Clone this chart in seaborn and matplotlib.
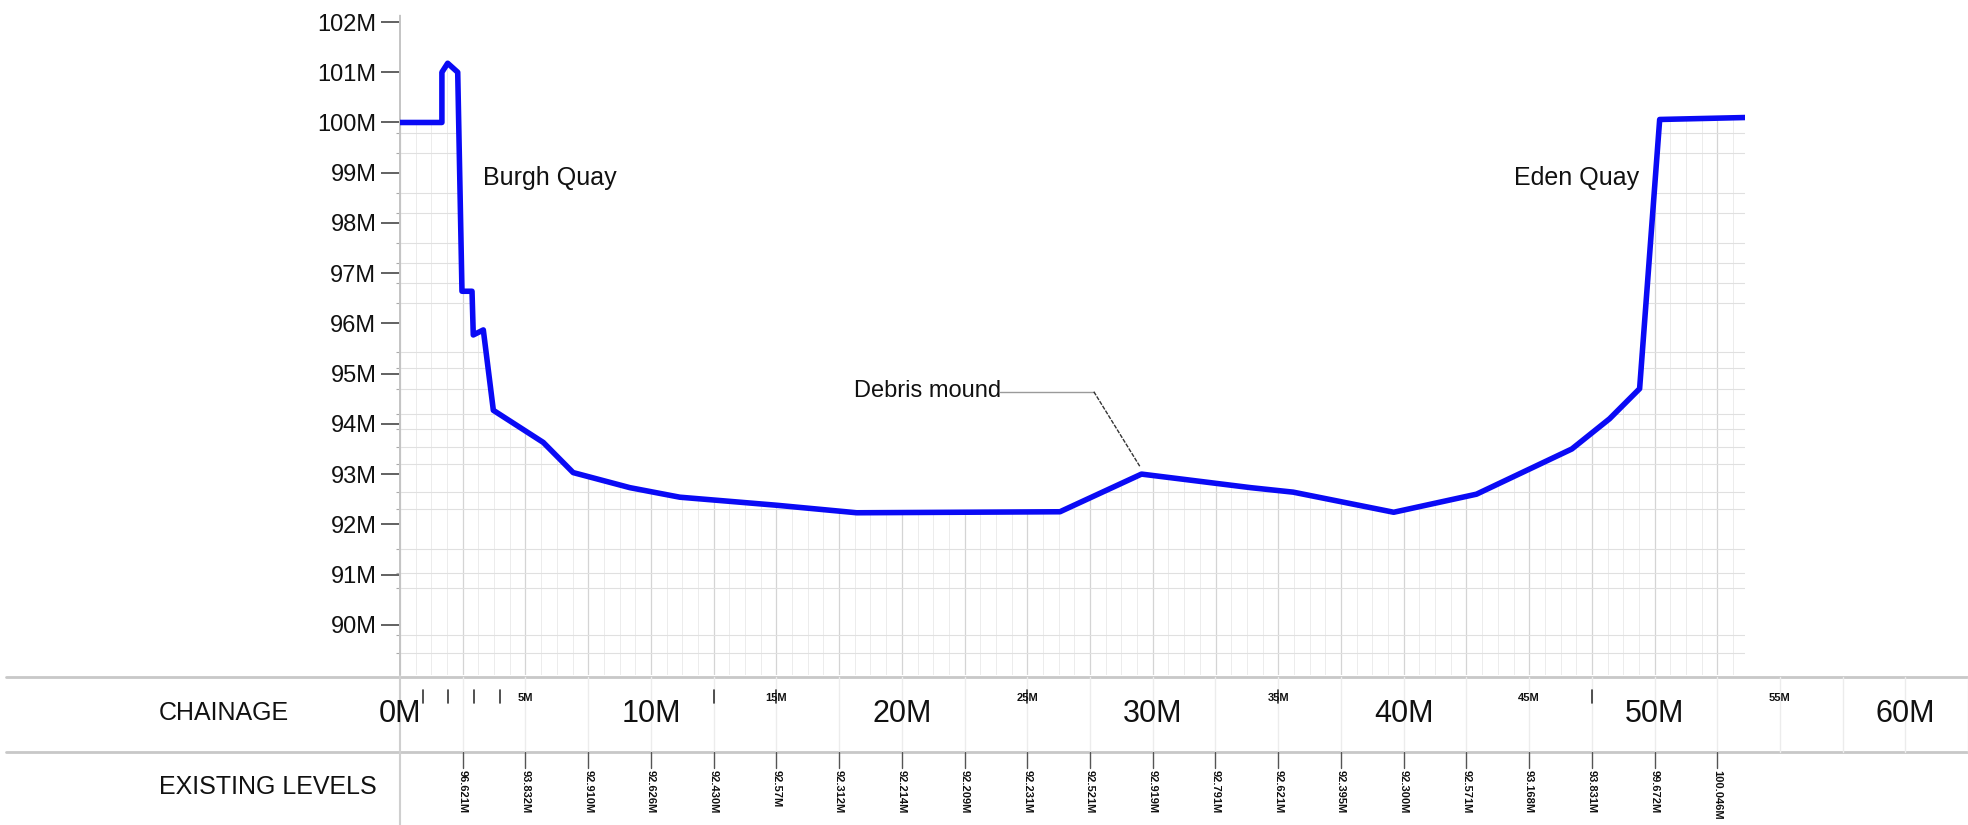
import numpy as np
import pandas as pd
import matplotlib
matplotlib.use("Agg")
import matplotlib.pyplot as plt
from matplotlib.ticker import MultipleLocator, FixedLocator
import seaborn as sns

# ==========================================================
# Data
# ==========================================================
chainage = [0.0, 1.67, 1.67, 1.9, 2.3, 2.47, 2.87, 2.92, 3.32, 3.72, 5.71, 6.9,
            9.16, 11.15, 15.0, 18.2, 26.3, 29.55, 33.9, 35.6, 39.6, 42.9, 46.7,
            48.2, 49.4, 50.2, 53.7]
level = [100.0, 100.0, 101.0, 101.18, 101.0, 96.64, 96.64, 95.77, 95.87, 94.27,
         93.63, 93.03, 92.73, 92.54, 92.38, 92.23, 92.25, 93.0, 92.73, 92.64,
         92.24, 92.6, 93.5, 94.1, 94.7, 100.06, 100.1]

level_chainage = [2.5, 5, 7.5, 10, 12.5, 15, 17.5, 20, 22.5, 25, 27.5, 30, 32.5,
                  35, 37.5, 40, 42.5, 45, 47.5, 50, 52.5]
level_labels = ["96.621M", "93.832M", "92.910M", "92.626M", "92.430M", "92.57M",
                "92.312M", "92.214M", "92.209M", "92.231M", "92.521M", "92.919M",
                "92.791M", "92.621M", "92.395M", "92.300M", "92.571M", "93.168M",
                "93.831M", "99.672M", "100.046M"]

major_chainage = [0, 10, 20, 30, 40, 50, 60]
minor_chainage = [5, 15, 25, 35, 45, 55]
chainage_ticks = [0.9, 1.9, 2.95, 4.0, 12.5, 15, 25, 35, 47.5]
y_levels = list(range(90, 103))

grid_levels = [89.44, 89.8, 90.74, 91.04, 91.5, 92.0, 92.3, 92.64, 93.2, 93.54,
               93.9, 94.2, 94.7, 95.12, 95.44, 96.0, 96.4, 96.8, 97.2, 97.6,
               98.2, 98.6, 99.0, 99.4, 99.8]

df = pd.DataFrame({"chainage": chainage, "level": level})

# ==========================================================
# Style
# ==========================================================
sns.set_theme(style="white")
plt.rcParams['font.family'] = ['Liberation Sans', 'DejaVu Sans']

W, H = 1968, 825
fig = plt.figure(figsize=(W / 100, H / 100), dpi=100)
fig.patch.set_facecolor("white")

# ---------------- profile axes ----------------
ax = fig.add_axes([400 / W, 1 - 675 / H, (1745 - 400) / W, (675 - 15) / H])
ax.set_xlim(0, 53.6)
ax.set_ylim(89.0, 102.14)
ax.set_facecolor("white")

# faint drawing-sheet grid
ax.xaxis.set_major_locator(MultipleLocator(2.5))
ax.xaxis.set_minor_locator(MultipleLocator(0.625))
ax.yaxis.set_minor_locator(FixedLocator(grid_levels))
ax.grid(True, which="major", axis="x", color="#d4d4d4", linewidth=0.9)
ax.grid(True, which="minor", axis="x", color="#ececec", linewidth=0.7)
ax.grid(True, which="minor", axis="y", color="#e0e0e0", linewidth=0.8)
ax.grid(False, which="major", axis="y")
ax.tick_params(axis="x", which="both", bottom=False, labelbottom=False)

# white-out above the bed, then the bed line
ax.fill_between(df["chainage"], df["level"], 102.14, color="white", zorder=2)
sns.lineplot(data=df, x="chainage", y="level", ax=ax, sort=False, estimator=None,
             color="#0a0af5", linewidth=4, zorder=3)
ax.set_xlabel("")
ax.set_ylabel("")

# y axis
ax.set_yticks(y_levels)
ax.set_yticklabels([f"{v}M" for v in y_levels])
ax.tick_params(axis="y", which="major", left=True, length=14, width=1.3,
               color="#555555", pad=3, labelsize=17, labelcolor="#111111")
ax.tick_params(axis="y", which="minor", left=True, length=3, width=0.8, color="#aaaaaa")
for s in ["top", "right", "bottom"]:
    ax.spines[s].set_visible(False)
ax.spines["left"].set_color("#c4c4c4")
ax.spines["left"].set_linewidth(1.4)
ax.spines["left"].set_linestyle((0, (1, 1)))

# annotations
ax.text(3.3, 98.9, "Burgh Quay", fontsize=18, color="#111111", va="center", ha="left", zorder=4)
ax.text(49.4, 98.9, "Eden Quay", fontsize=18, color="#111111", va="center", ha="right", zorder=4)
ax.text(18.1, 94.66, "Debris mound", fontsize=17, color="#111111", va="center", ha="left", zorder=4)
ax.plot([23.9, 27.65], [94.64, 94.64], color="#9a9a9a", linewidth=1.0, zorder=4)
ax.plot([27.65, 29.5], [94.64, 93.14], color="#333333", linewidth=1.0,
        linestyle=(0, (3, 1)), zorder=4)

# ---------------- table strip (pixel y, chainage x) ----------------
tab = fig.add_axes([0, 0, 1, 150 / H])
tab.set_xlim(-400 / 25.09, (W - 400) / 25.09)
tab.set_ylim(825, 675)
tab.axis("off")

tab.axhline(677, xmin=6 / W, color="#c8c8c8", linewidth=2)
tab.axhline(752, xmin=6 / W, color="#c8c8c8", linewidth=2)
tab.axvline(0, color="#cfcfcf", linewidth=1.5)

for c in np.arange(2.5, 62.6, 2.5):
    tab.plot([c, c], [677, 752], color="#ececec", linewidth=1.0)

for c in chainage_ticks:
    tab.plot([c, c], [690, 703], color="#333333", linewidth=1.2)

for c, lab in zip(level_chainage, level_labels):
    tab.plot([c, c], [752, 768], color="#555555", linewidth=1.0)
    tab.text(c, 770, lab, rotation=-90, fontsize=8, fontweight="bold",
             ha="center", va="top", color="#111111")

for c in major_chainage:
    tab.text(c, 714, f"{c}M", fontsize=22, ha="center", va="center", color="#111111")
for c in minor_chainage:
    tab.text(c, 698, f"{c}M", fontsize=8, ha="center", va="center", color="#111111",
             fontweight="bold")

tab.text(-9.6, 713, "CHAINAGE", fontsize=18, ha="left", va="center", color="#111111")
tab.text(-9.6, 787, "EXISTING LEVELS", fontsize=18, ha="left", va="center", color="#111111")

fig.savefig("out.png", dpi=100, facecolor="white")
